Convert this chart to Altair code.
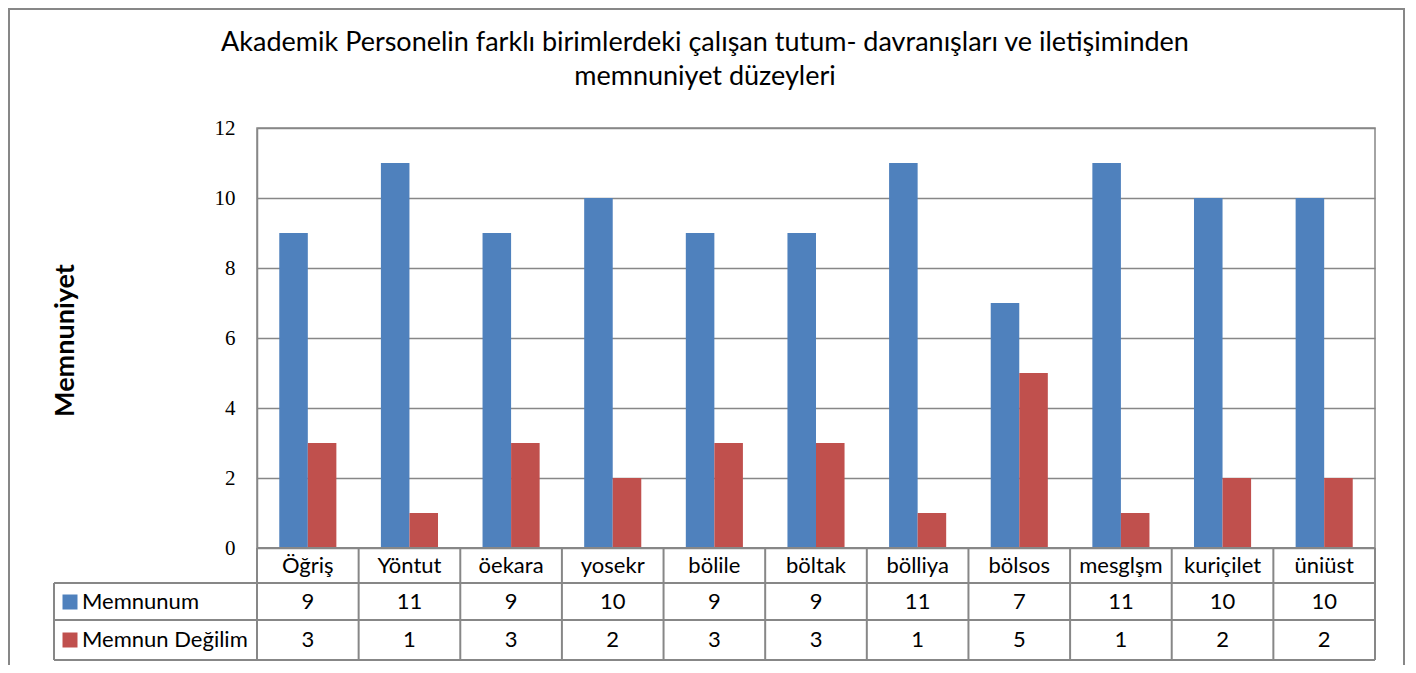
import altair as alt
import pandas as pd

categories = ["Öğriş", "Yöntut", "öekara", "yosekr", "bölile", "böltak", "bölliya", "bölsos", "mesglşm", "kuriçilet", "üniüst"]
memnunum = [9, 11, 9, 10, 9, 9, 11, 7, 11, 10, 10]
degilim = [3, 1, 3, 2, 3, 3, 1, 5, 1, 2, 2]
series = ["Memnunum", "Memnun Değilim"]
colors = ["#4F81BD", "#C0504D"]
title_lines = ["Akademik Personelin farklı birimlerdeki çalışan tutum- davranışları ve iletişiminden",
               "memnuniyet düzeyleri"]

rows = []
for c, a, b in zip(categories, memnunum, degilim):
    rows.append({"cat": c, "series": series[0], "value": a, "row": 0})
    rows.append({"cat": c, "series": series[1], "value": b, "row": 1})
df = pd.DataFrame(rows)
cat_df = pd.DataFrame({"cat": categories})
leg_df = pd.DataFrame({"series": series, "row": [0, 1]})
title_df = pd.DataFrame({"line": title_lines, "row": [0, 1]})

W, H = 1118, 420
GRAY = "#878787"
FONT = "Lato"
SERIF = "Liberation Serif"
TS = 22

xsc = alt.Scale(domain=categories, paddingInner=0, paddingOuter=0)
color = alt.Color("series:N", scale=alt.Scale(domain=series, range=colors), legend=None)
row_y = alt.Y("row:Q", scale=alt.Scale(domain=[0, 1], range=[474, 512]), axis=None)

bars = alt.Chart(df).mark_bar().encode(
    x=alt.X("cat:N", scale=xsc, sort=categories, axis=None),
    xOffset=alt.XOffset("series:N", scale=alt.Scale(domain=series, paddingOuter=0.78, paddingInner=0)),
    y=alt.Y("value:Q", scale=alt.Scale(domain=[0, 12]),
            axis=alt.Axis(values=[0, 2, 4, 6, 8, 10, 12], title="Memnuniyet", ticks=False,
                          labelFont=SERIF, labelFontSize=21,
                          labelColor="#000", labelPadding=22, grid=True, gridColor=GRAY, gridWidth=1.5,
                          domainColor=GRAY, domainWidth=1.5,
                          titleFont=FONT, titleFontSize=27, titleFontWeight="bold", titleColor="#000",
                          titleX=-192, titleY=212, titleAngle=270, titleBaseline="middle")),
    color=color,
)

cat_text = alt.Chart(cat_df).mark_text(font=FONT, fontSize=TS, color="#000").encode(
    x=alt.X("cat:N", scale=xsc, sort=categories),
    y=alt.value(438),
    text="cat:N",
)

val_text = alt.Chart(df).mark_text(font=FONT, fontSize=TS, color="#000").encode(
    x=alt.X("cat:N", scale=xsc, sort=categories),
    y=row_y,
    text="value:Q",
)

leg_sq = alt.Chart(leg_df).mark_square(size=225, opacity=1).encode(
    x=alt.value(-187),
    y=row_y,
    color=color,
)
leg_text = alt.Chart(leg_df).mark_text(font=FONT, fontSize=TS, color="#000", align="left").encode(
    x=alt.value(-175),
    y=row_y,
    text="series:N",
)

title_text = alt.Chart(title_df).mark_text(font=FONT, fontSize=27, color="#000").encode(
    x=alt.value(448),
    y=alt.Y("row:Q", scale=alt.Scale(domain=[0, 1], range=[-85, -51]), axis=None),
    text="line:N",
)

vlines = alt.Chart(cat_df).mark_rule(color=GRAY, strokeWidth=2).encode(
    x=alt.X("cat:N", scale=xsc, sort=categories, bandPosition=0),
    y=alt.value(H), y2=alt.value(532),
)
one = pd.DataFrame({"k": [0]})
edges = alt.layer(
    alt.Chart(one).mark_rule(color=GRAY, strokeWidth=2).encode(x=alt.value(W), y=alt.value(H), y2=alt.value(532)),
    alt.Chart(one).mark_rule(color=GRAY, strokeWidth=2).encode(x=alt.value(-203), y=alt.value(455), y2=alt.value(532)),
    alt.Chart(one).mark_rule(color=GRAY, strokeWidth=2).encode(x=alt.value(-203), x2=alt.value(W), y=alt.value(455)),
    alt.Chart(one).mark_rule(color=GRAY, strokeWidth=2).encode(x=alt.value(-203), x2=alt.value(W), y=alt.value(492)),
    alt.Chart(one).mark_rule(color=GRAY, strokeWidth=2).encode(x=alt.value(-203), x2=alt.value(W), y=alt.value(532)),
    alt.Chart(one).mark_rule(color=GRAY, strokeWidth=2).encode(x=alt.value(0), x2=alt.value(W), y=alt.value(H)),
    # outer frame
    alt.Chart(one).mark_rule(color=GRAY, strokeWidth=2).encode(x=alt.value(-248), y=alt.value(-120), y2=alt.value(560)),
    alt.Chart(one).mark_rule(color=GRAY, strokeWidth=2).encode(x=alt.value(1147), y=alt.value(-120), y2=alt.value(560)),
    alt.Chart(one).mark_rule(color=GRAY, strokeWidth=2).encode(x=alt.value(-248), x2=alt.value(1147), y=alt.value(-119)),
)

chart = alt.layer(bars, vlines, edges, cat_text, val_text, leg_sq, leg_text, title_text).resolve_scale(
    y="independent"
).properties(
    width=W, height=H,
    autosize=alt.AutoSizeParams(type="none"),
    padding={"left": 249, "top": 120, "right": 33, "bottom": 117},
).configure_view(stroke=GRAY, strokeWidth=1.5)

chart.save("out.html", embed_options={"renderer": "svg", "actions": False})
